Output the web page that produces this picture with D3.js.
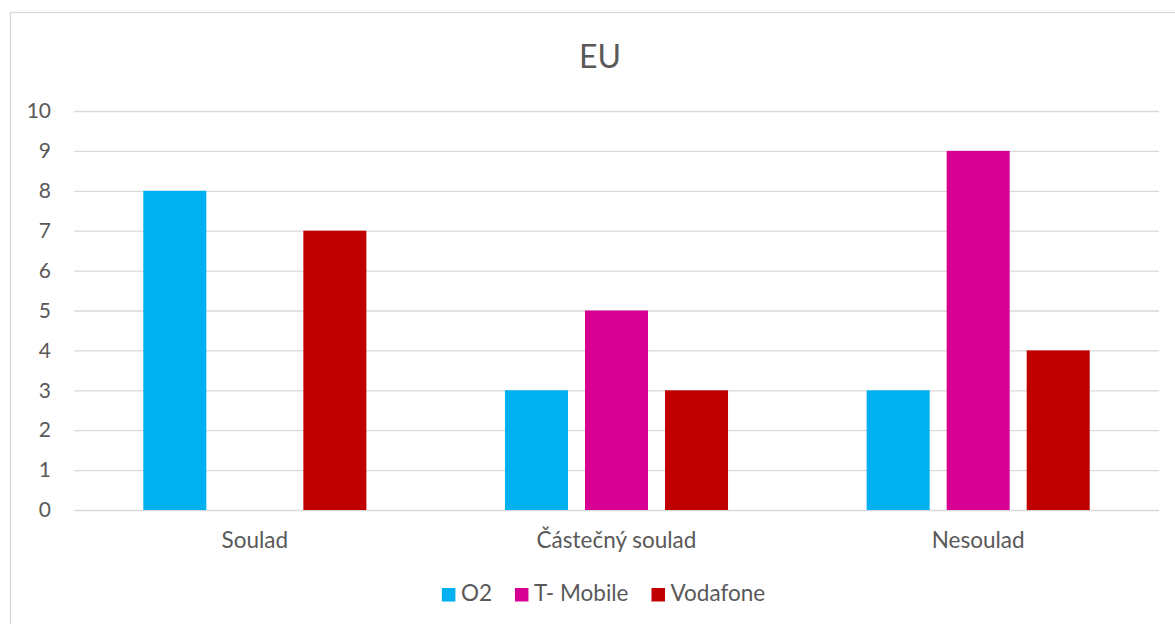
<!DOCTYPE html>
<html>
<head>
<meta charset="utf-8">
<script src="https://cdn.jsdelivr.net/npm/d3@7"></script>
<style>
  html, body { margin: 0; padding: 0; background: #fff; }
  svg { display: block; }
  text { font-family: Lato, "Open Sans", sans-serif; fill: #595959; }
</style>
</head>
<body>
<svg id="chart" width="1175" height="624"></svg>
<script>
const title = "EU";
const categories = ["Soulad", "Částečný soulad", "Nesoulad"];
const seriesNames = ["O2", "T- Mobile", "Vodafone"];
const seriesColors = ["#00b0f0", "#d60093", "#c00000"];
const valuesO2 = [8, 3, 3];
const valuesTMobile = [0, 5, 9];
const valuesVodafone = [7, 3, 4];
const yTicks = [0, 1, 2, 3, 4, 5, 6, 7, 8, 9, 10];

const seriesValues = [valuesO2, valuesTMobile, valuesVodafone];

const svg = d3.select("#chart");
const W = 1175, H = 624;

// chart border
svg.append("rect")
  .attr("x", 10.5).attr("y", 12.5)
  .attr("width", W).attr("height", H)
  .attr("fill", "none").attr("stroke", "#d9d9d9").attr("stroke-width", 1.3);

const plot = { left: 74, right: 1159, top: 111, bottom: 510 };

const x0 = d3.scaleBand().domain(categories).range([plot.left, plot.right]).padding(0);
const x1 = d3.scaleBand().domain(seriesNames).range([0, x0.bandwidth()])
  .paddingInner(0.2125).paddingOuter(0.866);
const y = d3.scaleLinear().domain([0, 10]).range([plot.bottom, plot.top]);

// gridlines
const yAxis = d3.axisLeft(y).tickValues(yTicks).tickSize(-(plot.right - plot.left)).tickPadding(23);
const gy = svg.append("g").attr("transform", `translate(${plot.left},0)`).call(yAxis);
gy.select(".domain").remove();
gy.selectAll(".tick line").attr("stroke", "#d9d9d9").attr("stroke-width", 1.3);
gy.selectAll(".tick text")
  .style("font-family", "Lato, 'Open Sans', sans-serif")
  .style("font-size", "21px").attr("fill", "#595959");

// bars
const groups = svg.append("g").selectAll("g")
  .data(categories).join("g")
  .attr("transform", d => `translate(${x0(d)},0)`);

groups.selectAll("rect")
  .data((c, ci) => seriesNames.map((s, si) => ({ s, si, v: seriesValues[si][ci] })))
  .join("rect")
  .attr("x", d => x1(d.s))
  .attr("width", x1.bandwidth())
  .attr("y", d => y(d.v))
  .attr("height", d => y(0) - y(d.v))
  .attr("fill", d => seriesColors[d.si]);

// category axis labels
const xAxis = d3.axisBottom(x0).tickSize(0).tickPadding(22);
const gx = svg.append("g").attr("transform", `translate(0,${plot.bottom})`).call(xAxis);
gx.select(".domain").remove();
gx.selectAll(".tick text")
  .style("font-family", "Lato, 'Open Sans', sans-serif")
  .style("font-size", "22.5px").attr("fill", "#595959");

// title
svg.append("text")
  .attr("x", 600).attr("y", 68)
  .attr("text-anchor", "middle")
  .style("font-size", "32px")
  .text(title);

// legend
const legend = svg.append("g");
const items = legend.selectAll("g").data(seriesNames).join("g");
items.append("rect")
  .attr("width", 13.5).attr("height", 13.5)
  .attr("y", 588)
  .attr("fill", (d, i) => seriesColors[i]);
items.append("text")
  .attr("y", 601)
  .style("font-size", "22.5px")
  .text(d => d);
let cx = 0;
items.each(function(d, i) {
  const tw = d3.select(this).select("text").node().getComputedTextLength();
  d3.select(this).select("rect").attr("x", cx);
  d3.select(this).select("text").attr("x", cx + 19);
  cx += 19 + tw + (i < seriesNames.length - 1 ? 23 : 0);
});
legend.attr("transform", `translate(${603.5 - cx / 2},0)`);
</script>
</body>
</html>
